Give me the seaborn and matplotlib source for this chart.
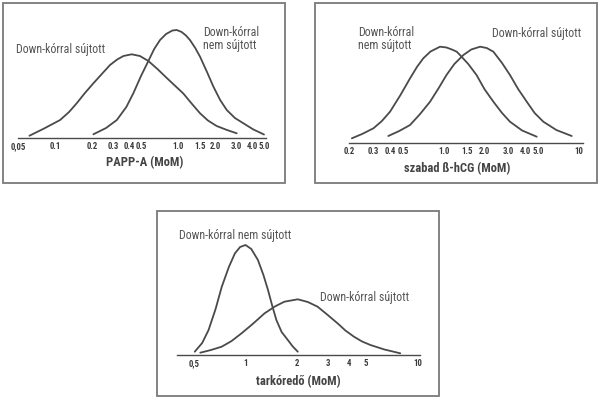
import numpy as np
import pandas as pd
import matplotlib
matplotlib.use("Agg")
import matplotlib.pyplot as plt
from matplotlib import font_manager
from matplotlib.patches import Rectangle
from matplotlib.ticker import NullFormatter
import seaborn as sns

# ---------------- data ----------------
# Panel 1: PAPP-A (MoM)
papp_aff_x = [0.062, 0.08, 0.11, 0.13, 0.15, 0.175, 0.205, 0.24, 0.28, 0.32, 0.36, 0.42, 0.49, 0.574,
              0.68, 0.81, 0.95, 1.10, 1.30, 1.51, 1.75, 2.06, 2.5, 3.0]
papp_aff_y = [2.3, 9, 18, 26, 34.7, 45, 54.7, 64, 73, 78.5, 82, 83.7, 82, 77,
              69, 60, 52, 44.7, 34, 24.7, 17.5, 12, 8, 4.7]
papp_unaff_x = [0.205, 0.26, 0.318, 0.38, 0.433, 0.50, 0.574, 0.64, 0.714, 0.80, 0.90, 0.976, 1.07,
                1.16, 1.25, 1.38, 1.51, 1.72, 1.94, 2.2, 2.49, 2.9, 3.40, 4.1, 5.0]
papp_unaff_y = [3.7, 10, 18, 31, 44.7, 62, 77, 89, 98, 104, 107.5, 108, 106,
                102.5, 98, 90, 81.3, 66, 51.3, 38, 28, 20, 14.7, 8.5, 3.5]
papp_ticks = [0.05, 0.1, 0.2, 0.3, 0.4, 0.5, 1.0, 1.5, 2.0, 3.0, 4.0, 5.0]
papp_labels = ["0,05", "0.1", "0.2", "0.3", "0.4", "0.5", "1.0", "1.5", "2.0", "3.0", "4.0", "5.0"]
papp_minor = [0.6, 0.7, 0.8, 0.9]

# Panel 2: szabad ß-hCG (MoM)
hcg_unaff_x = [0.21, 0.25, 0.303, 0.35, 0.402, 0.48, 0.565, 0.635, 0.708, 0.80, 0.94, 1.05, 1.15,
               1.25, 1.32, 1.52, 1.75, 2.0, 2.33, 2.7, 3.09, 3.8, 4.87]
hcg_unaff_y = [4.7, 9, 14.7, 22, 31.3, 48, 64.7, 76, 84.7, 91.5, 96.3, 95.5, 93.5,
               91.3, 88, 79, 68, 54, 41.3, 30, 21.3, 12.5, 6.3]
hcg_aff_x = [0.39, 0.47, 0.565, 0.67, 0.794, 0.92, 1.05, 1.2, 1.40, 1.60, 1.86, 2.08, 2.33,
             2.7, 3.09, 3.55, 4.11, 4.7, 5.45, 6.8, 8.83]
hcg_aff_y = [7, 12, 18, 29, 41.3, 55, 68, 79, 88, 93.5, 96.3, 95, 91.3,
             80, 68, 54, 41.3, 30, 21.3, 13, 7]
hcg_ticks = [0.2, 0.3, 0.4, 0.5, 1.0, 1.5, 2.0, 3.0, 4.0, 5.0, 10]
hcg_labels = ["0.2", "0.3", "0.4", "0.5", "1.0", "1.5", "2.0", "3.0", "4.0", "5.0", "10"]
hcg_minor = [0.6, 0.7, 0.8, 0.9, 6, 7, 8, 9]

# Panel 3: tarkóredő (MoM)
nt_unaff_x = [0.507, 0.56, 0.610, 0.67, 0.727, 0.80, 0.868, 0.93, 1.0, 1.08, 1.18, 1.27, 1.35,
              1.43, 1.51, 1.62, 1.76, 1.88, 2.01]
nt_unaff_y = [3.3, 12, 25, 46, 68, 88, 101.7, 108, 110, 106, 95, 80, 65,
              49, 35, 23, 15, 8.5, 3.3]
nt_aff_x = [0.546, 0.63, 0.727, 0.83, 0.948, 1.10, 1.29, 1.48, 1.68, 2.01, 2.3, 2.62, 3.0,
            3.42, 3.8, 4.26, 4.75, 5.31, 6.4, 7.91]
nt_aff_y = [2.3, 5, 8.3, 14, 21.7, 31, 41.7, 48.5, 53.3, 55.7, 53, 48.3, 40,
            31.7, 24.5, 18.3, 13.5, 10, 5.5, 1.7]
nt_ticks = [0.5, 1, 2, 3, 4, 5, 10]
nt_labels = ["0,5", "1", "2", "3", "4", "5", "10"]
nt_minor = [0.4, 0.6, 0.7, 0.8, 0.9, 1.1, 1.2, 1.3, 1.4, 1.5, 1.6, 1.7, 1.8, 1.9, 6, 7, 8, 9]

# ---------------- style ----------------
sns.set_style("white")
avail = {f.name for f in font_manager.fontManager.ttflist}
fam = [f for f in ["Liberation Sans Narrow", "Roboto Condensed", "Arial Narrow", "Liberation Sans", "DejaVu Sans"] if f in avail]
plt.rcParams["font.family"] = fam + ["DejaVu Sans"]

W, H = 600, 399
fig = plt.figure(figsize=(W / 100, H / 100), dpi=100)

TXT = "#555555"
LINE = "#4a4a4a"
BOX = "#7a7a7a"


def px_axes(left, top, right, bottom):
    return fig.add_axes([left / W, 1 - bottom / H, (right - left) / W, (bottom - top) / H])


def box(left, top, right, bottom):
    fig.patches.append(Rectangle((left / W, 1 - bottom / H), (right - left) / W, (bottom - top) / H,
                                 transform=fig.transFigure, fill=False, edgecolor=BOX, linewidth=1.3))


def panel(ax, curves, xlim, ylim, ticks, labels, minor):
    for xs, ys in curves:
        df = pd.DataFrame({"x": xs, "y": ys})
        sns.lineplot(data=df, x="x", y="y", ax=ax, color=LINE, linewidth=1.3, sort=False,
                     solid_joinstyle="round", solid_capstyle="round")
    ax.set_xscale("log")
    ax.set_xlim(*xlim)
    ax.set_ylim(*ylim)
    ax.set_xticks(ticks)
    ax.set_xticklabels(labels)
    ax.set_xticks(minor, minor=True)
    ax.xaxis.set_minor_formatter(NullFormatter())
    ax.set_yticks([])
    ax.set_ylabel("")
    ax.set_xlabel("")
    for s in ["left", "right", "top"]:
        ax.spines[s].set_visible(False)
    ax.spines["bottom"].set_color(LINE)
    ax.spines["bottom"].set_linewidth(1.0)
    ax.tick_params(axis="x", which="both", direction="in", length=3, width=0.8, color=LINE,
                   labelsize=6.3, labelcolor="#3a3a3a", pad=3)
    for t in ax.get_xticklabels():
        t.set_fontweight("bold")
    ax.patch.set_alpha(0)


# Panel 1
box(3, 3, 285, 183)
ax1 = px_axes(18, 20, 266, 138)
panel(ax1, [(papp_aff_x, papp_aff_y), (papp_unaff_x, papp_unaff_y)], (0.05, 5.19), (0, 118),
      papp_ticks, papp_labels, papp_minor)
fig.text(16 / W, 1 - 49 / H, "Down-kórral sújtott", color=TXT, fontsize=8.6, ha="left", va="center")
fig.text(203 / W, 1 - 32 / H, "Down-kórral", color=TXT, fontsize=8.6, ha="left", va="center")
fig.text(203 / W, 1 - 45 / H, "nem sújtott", color=TXT, fontsize=8.6, ha="left", va="center")
fig.text(145 / W, 1 - 163 / H, "PAPP-A (MoM)", color="#444444", fontsize=9, fontweight="bold",
         ha="center", va="center")

# Panel 2
box(315, 3, 597, 183)
ax2 = px_axes(349, 25, 583, 143)
panel(ax2, [(hcg_unaff_x, hcg_unaff_y), (hcg_aff_x, hcg_aff_y)], (0.2, 10.7), (0, 118),
      hcg_ticks, hcg_labels, hcg_minor)
fig.text(358 / W, 1 - 33 / H, "Down-kórral", color=TXT, fontsize=8.6, ha="left", va="center")
fig.text(358 / W, 1 - 46 / H, "nem sújtott", color=TXT, fontsize=8.6, ha="left", va="center")
fig.text(492 / W, 1 - 33 / H, "Down-kórral sújtott", color=TXT, fontsize=8.6, ha="left", va="center")
fig.text(457 / W, 1 - 169 / H, "szabad ß-hCG (MoM)", color="#444444", fontsize=9, fontweight="bold",
         ha="center", va="center")

# Panel 3
box(157, 211, 439, 396)
ax3 = px_axes(177, 225, 420, 355)
panel(ax3, [(nt_unaff_x, nt_unaff_y), (nt_aff_x, nt_aff_y)], (0.41, 10.3), (0, 130),
      nt_ticks, nt_labels, nt_minor)
fig.text(179 / W, 1 - 235 / H, "Down-kórral nem sújtott", color=TXT, fontsize=8.6, ha="left", va="center")
fig.text(320 / W, 1 - 297 / H, "Down-kórral sújtott", color=TXT, fontsize=8.6, ha="left", va="center")
fig.text(298 / W, 1 - 382 / H, "tarkóredő (MoM)", color="#444444", fontsize=9, fontweight="bold",
         ha="center", va="center")

fig.savefig("out.png", dpi=100, facecolor="white")
